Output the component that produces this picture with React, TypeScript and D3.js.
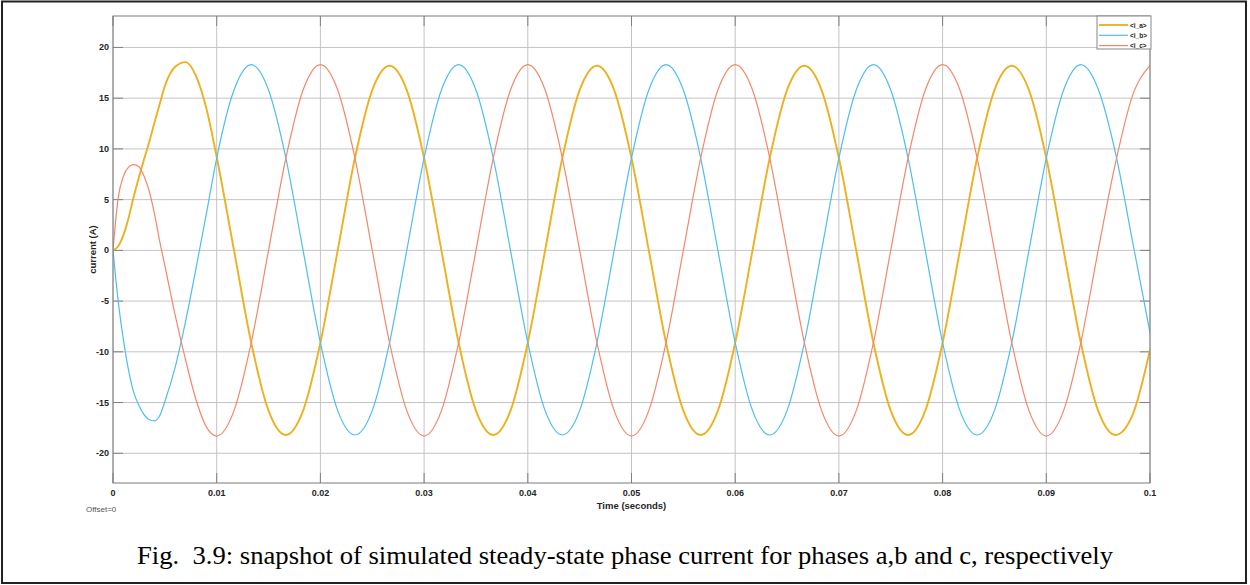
import React from "react";
import * as d3 from "d3";

// time (s)
const T = [
  0, 0.0005, 0.001, 0.0015, 0.002, 0.0025, 0.003, 0.0035, 0.004, 0.0045, 0.005, 0.006, 0.007, 0.008, 0.009,
  0.01, 0.01167, 0.01333, 0.015, 0.01667, 0.01833,
  0.02, 0.02167, 0.02333, 0.025, 0.02667, 0.02833,
  0.03, 0.03167, 0.03333, 0.035, 0.03667, 0.03833,
  0.04, 0.04167, 0.04333, 0.045, 0.04667, 0.04833,
  0.05, 0.05167, 0.05333, 0.055, 0.05667, 0.05833,
  0.06, 0.06167, 0.06333, 0.065, 0.06667, 0.06833,
  0.07, 0.07167, 0.07333, 0.075, 0.07667, 0.07833,
  0.08, 0.08167, 0.08333, 0.085, 0.08667, 0.08833,
  0.09, 0.09167, 0.09333, 0.095, 0.09667, 0.09833,
  0.1,
];

// <i_a>
const IA = [
  0, 0.4, 1.5, 3.2, 5.3, 7.2, 9.0, 10.7, 12.6, 14.4, 16.2, 18.1, 18.55, 17.2, 14.0,
  9.2, 0, -9.1, -15.8, -18.2, -15.8,
  -9.1, 0, 9.1, 15.8, 18.2, 15.8,
  9.1, 0, -9.1, -15.8, -18.2, -15.8,
  -9.1, 0, 9.1, 15.8, 18.2, 15.8,
  9.1, 0, -9.1, -15.8, -18.2, -15.8,
  -9.1, 0, 9.1, 15.8, 18.2, 15.8,
  9.1, 0, -9.1, -15.8, -18.2, -15.8,
  -9.1, 0, 9.1, 15.8, 18.2, 15.8,
  9.1, 0, -9.1, -15.8, -18.2, -16.2,
  -9.8,
];

// <i_b>
const IB = [
  0, -5.0, -8.8, -11.8, -14.0, -15.3, -16.2, -16.7, -16.8, -16.3, -14.9, -11.5, -7.0, -1.8, 3.6,
  9.1, 15.8, 18.3, 15.8, 9.1, 0,
  -9.1, -15.8, -18.2, -15.8, -9.1, 0,
  9.1, 15.8, 18.3, 15.8, 9.1, 0,
  -9.1, -15.8, -18.2, -15.8, -9.1, 0,
  9.1, 15.8, 18.3, 15.8, 9.1, 0,
  -9.1, -15.8, -18.2, -15.8, -9.1, 0,
  9.1, 15.8, 18.3, 15.8, 9.1, 0,
  -9.1, -15.8, -18.2, -15.8, -9.1, 0,
  9.1, 15.8, 18.3, 15.9, 9.6, 0.8,
  -8.1,
];

// <i_c>
const IC = [
  0, 5.2, 7.3, 8.2, 8.45, 8.25, 7.3, 5.8, 3.6, 0.9, -1.5, -6.4, -10.8, -14.7, -17.4,
  -18.3, -15.8, -9.1, 0, 9.1, 15.8,
  18.3, 15.8, 9.1, 0, -9.1, -15.8,
  -18.3, -15.8, -9.1, 0, 9.1, 15.8,
  18.3, 15.8, 9.1, 0, -9.1, -15.8,
  -18.3, -15.8, -9.1, 0, 9.1, 15.8,
  18.3, 15.8, 9.1, 0, -9.1, -15.8,
  -18.3, -15.8, -9.1, 0, 9.1, 15.8,
  18.3, 15.8, 9.1, 0, -9.1, -15.8,
  -18.3, -15.8, -9.1, 0, 8.6, 15.3,
  18.2,
];

const SERIES_NAMES = ["<i_a>", "<i_b>", "<i_c>"];
const SERIES_COLORS = ["#EDB120", "#4DBEEE", "#F4876B"];
const SERIES_WIDTHS = [1.9, 1.2, 1.2];
const X_TICKS = [0, 0.01, 0.02, 0.03, 0.04, 0.05, 0.06, 0.07, 0.08, 0.09, 0.1];
const Y_TICKS = [-20, -15, -10, -5, 0, 5, 10, 15, 20];
const CAPTION = "Fig.  3.9: snapshot of simulated steady-state phase current for phases a,b and c, respectively";

const W = 1250;
const H = 585;
const PL = 113, PR = 1150, PT = 16, PB = 483;

export default function App() {
  const x = d3.scaleLinear().domain([0, 0.1]).range([PL, PR]);
  const y = d3.scaleLinear().domain([-22.93, 23.1]).range([PB, PT]);
  const seriesData = [IA, IB, IC];
  const line = d3
    .line<number>()
    .x((_, i) => x(T[i]))
    .y((d) => y(d))
    .curve(d3.curveMonotoneX);

  const font = "'Liberation Sans', Arial, sans-serif";
  const txt = "#262626";

  return (
    <div style={{ position: "absolute", left: 0, top: 0, width: W, height: H }}>
      <svg width={W} height={H} style={{ display: "block" }}>
        <rect x={0} y={0} width={W} height={H} fill="#fff" />
        <rect x={2} y={1.5} width={1244} height={581.5} fill="none" stroke="#222" strokeWidth={2} />
        <defs>
          <clipPath id="plotclip">
            <rect x={PL} y={PT} width={PR - PL} height={PB - PT} />
          </clipPath>
        </defs>
        {/* grid */}
        <g stroke="#c4c4c4" strokeWidth={1}>
          {X_TICKS.map((t) => (
            <line key={"gx" + t} x1={x(t)} x2={x(t)} y1={PT} y2={PB} />
          ))}
          {Y_TICKS.map((t) => (
            <line key={"gy" + t} x1={PL} x2={PR} y1={y(t)} y2={y(t)} />
          ))}
        </g>
        {/* ticks */}
        <g stroke="#808080" strokeWidth={1}>
          {X_TICKS.map((t) => (
            <g key={"tx" + t}>
              <line x1={x(t)} x2={x(t)} y1={PB} y2={PB - 10} />
              <line x1={x(t)} x2={x(t)} y1={PT} y2={PT + 10} />
            </g>
          ))}
          {Y_TICKS.map((t) => (
            <g key={"ty" + t}>
              <line x1={PL} x2={PL + 10} y1={y(t)} y2={y(t)} />
              <line x1={PR} x2={PR - 10} y1={y(t)} y2={y(t)} />
            </g>
          ))}
        </g>
        {/* series */}
        <g clipPath="url(#plotclip)" fill="none">
          {seriesData.map((s, i) => (
            <path
              key={SERIES_NAMES[i]}
              d={line(s) || ""}
              stroke={SERIES_COLORS[i]}
              strokeWidth={SERIES_WIDTHS[i]}
              strokeLinejoin="round"
            />
          ))}
        </g>
        {/* axes box */}
        <rect x={PL} y={PT} width={PR - PL} height={PB - PT} fill="none" stroke="#7a7a7a" strokeWidth={1} />
        {/* tick labels */}
        <g fontFamily={font} fontSize={9} fontWeight="bold" fill={txt}>
          {X_TICKS.map((t) => (
            <text key={"lx" + t} x={x(t)} y={PB + 13} textAnchor="middle">
              {d3.format("~g")(t)}
            </text>
          ))}
          {Y_TICKS.map((t) => (
            <text key={"ly" + t} x={PL - 4} y={y(t)} textAnchor="end" dominantBaseline="central">
              {t}
            </text>
          ))}
          <text x={(PL + PR) / 2} y={PB + 26} textAnchor="middle" fontSize={9.5}>
            Time (seconds)
          </text>
          <text
            transform={`translate(${PL - 21},${(PT + PB) / 2}) rotate(-90)`}
            textAnchor="middle"
            dominantBaseline="central"
            fontSize={9.5}
          >
            current (A)
          </text>
        </g>
        <text x={86} y={512} fontFamily={font} fontSize={8} fill="#555">
          Offset=0
        </text>
        {/* legend */}
        <g>
          <rect x={1097} y={PT} width={54} height={33} fill="#fff" stroke="#888" strokeWidth={1} />
          {SERIES_NAMES.map((n, i) => (
            <g key={"lg" + n}>
              <line
                x1={1099}
                x2={1128}
                y1={PT + 9 + i * 10.3}
                y2={PT + 9 + i * 10.3}
                stroke={SERIES_COLORS[i]}
                strokeWidth={SERIES_WIDTHS[i]}
              />
              <text
                x={1130}
                y={PT + 9 + i * 10.3}
                dominantBaseline="central"
                fontFamily={font}
                fontSize={6.5}
                fontWeight="bold"
                fill={txt}
              >
                {n}
              </text>
            </g>
          ))}
        </g>
        {/* caption */}
        <text
          x={137}
          y={564}
          textLength={976}
          lengthAdjust="spacingAndGlyphs"
          fontFamily="'Liberation Serif', 'Times New Roman', serif"
          fontSize={25}
          fill="#000"
          style={{ whiteSpace: "pre" }}
        >
          {CAPTION}
        </text>
      </svg>
    </div>
  );
}
